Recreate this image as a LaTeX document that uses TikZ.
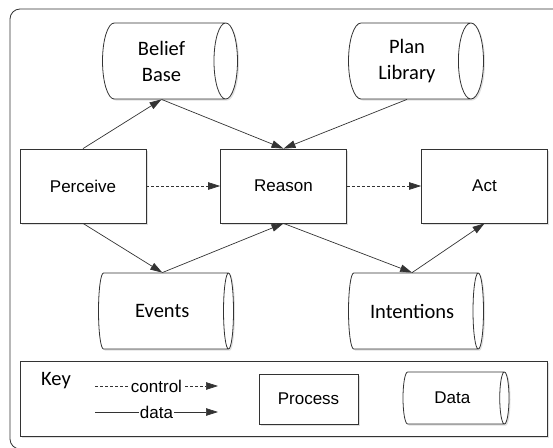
\documentclass[tikz,border=0pt]{standalone}
\usepackage{fontspec}
\setmainfont{Liberation Sans}
\newfontfamily\carlito{Carlito}
\usetikzlibrary{arrows.meta,shapes.geometric,shadows}
\tikzset{proc/.style={draw=black!80,rectangle,line width=0.8pt,fill=white,minimum width=126pt,minimum height=74pt,
    drop shadow={shadow xshift=1.5pt,shadow yshift=-1.5pt,fill=black!12,opacity=1},font=\fontsize{17}{20}\selectfont}}
\tikzset{store/.style={draw=black!80,cylinder,aspect=0.5,anchor=shape center,line width=0.8pt,fill=white,minimum height=135pt,minimum width=76pt,
    drop shadow={shadow xshift=1.5pt,shadow yshift=-1.5pt,fill=black!12,opacity=1},align=center,font=\carlito\fontsize{20.5}{26}\selectfont}}
\tikzset{flow/.style={-{Triangle[length=12pt,width=7.5pt]},draw=black!80,line width=0.7pt}}
\tikzset{ctrlflow/.style={flow,dash pattern=on 3pt off 2pt}}

\begin{document}
\begin{tikzpicture}[x=1pt,y=-1pt]
		\useasboundingbox (0,0) rectangle (553,447);
		\clip (0,0) rectangle (553,447);
		\draw[black!80,line width=0.8pt,rounded corners=10pt] (10,9) rectangle (565,449);
		
		\node[store] (bb) at (170,61) {Belief\\Base};
		\node[store] (pl) at (416,61) {Plan\\Library};
		\node[proc] (per) at (83,186) {Perceive};
		\node[proc] (rea) at (283.5,186) {Reason};
		\node[proc] (act) at (484.5,186) {Act};
		\node[store] (ev) at (166,311) {Events};
		\node[store] (int) at (416,311) {Intentions};
		
		\draw[flow] (per.north) -- (bb.south);
		\draw[flow] (bb.south) -- (rea.north);
		\draw[flow] (pl.south) -- (rea.north);
		\draw[ctrlflow] (per) -- (rea);
		\draw[ctrlflow] (rea) -- (act);
		\draw[flow] (per.south) -- (ev.north);
		\draw[flow] (ev.north) -- (rea.south);
		\draw[flow] (rea.south) -- (int.north);
		\draw[flow] (int.north) -- (act.south);
		
		\node[draw=black!80,line width=0.8pt,minimum width=527pt,minimum height=75pt,
			drop shadow={shadow xshift=1.5pt,shadow yshift=-1.5pt,fill=black!12,opacity=1},fill=white] (key) at (283.5,398.5) {};
		\node[font=\carlito\fontsize{20.5}{24}\selectfont] (keyt) at (56,381) {Key};
		\coordinate (c0) at (95,386);
		\coordinate (c1) at (218,386);
		\coordinate (d0) at (95,412);
		\coordinate (d1) at (218,412);
		\draw[ctrlflow] (c0) -- node[fill=white,inner sep=1pt,font=\fontsize{17}{20}\selectfont]{control} (c1);
		\draw[flow] (d0) -- node[fill=white,inner sep=1pt,font=\fontsize{17}{20}\selectfont]{data} (d1);
		\node[proc,minimum width=99pt,minimum height=50pt] (kp) at (308.5,399) {Process};
		\node[store,minimum height=106pt,minimum width=52pt,font=\fontsize{17}{20}\selectfont] (kd) at (456,398) {Data};
\end{tikzpicture}
\end{document}
